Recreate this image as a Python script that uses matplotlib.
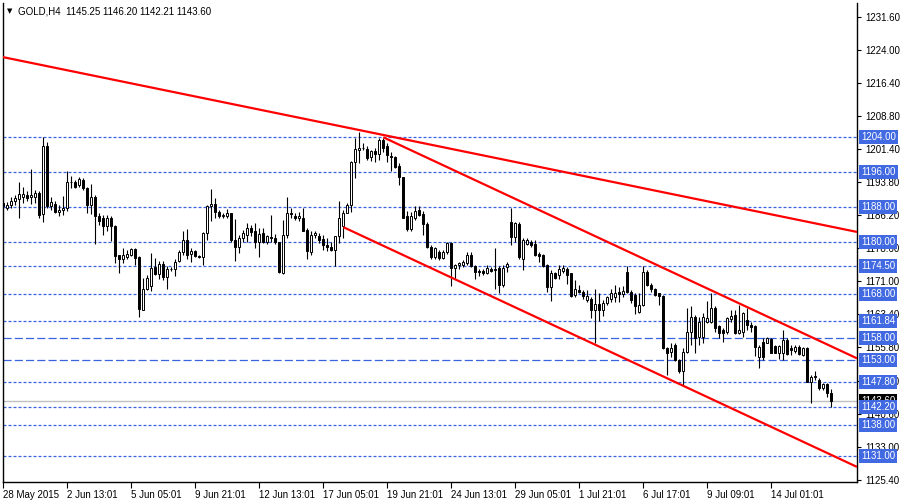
import matplotlib.pyplot as plt
import numpy as np

# GOLD H4 candles (open, high, low, close)
opens = [
    1188.9, 1187.8, 1188.5, 1189.3, 1189.9, 1190.3, 1190.7, 1190.2, 1190.4, 1191.2,
    1186.4, 1202.0, 1188.2, 1188.8, 1186.8, 1187.3, 1187.8, 1193.7, 1193.7, 1193.1,
    1194.3, 1192.3, 1188.4, 1190.4, 1186.0, 1185.6, 1183.6, 1185.6, 1183.6, 1176.9,
    1176.0, 1176.6, 1177.1, 1178.4, 1176.5, 1164.5, 1169.2, 1169.9, 1174.2, 1172.7,
    1175.0, 1171.9, 1173.8, 1173.9, 1175.6, 1177.7, 1180.5, 1177.3, 1178.0, 1176.7,
    1176.6, 1182.1, 1188.2, 1188.8, 1186.9, 1185.9, 1185.9, 1186.6, 1180.5, 1178.8,
    1180.9, 1181.7, 1183.3, 1182.6, 1180.0, 1182.1, 1180.1, 1181.1, 1180.9, 1180.0,
    1172.9, 1181.7, 1186.6, 1186.0, 1185.4, 1185.5, 1182.8, 1177.7, 1181.5, 1181.4,
    1180.7, 1179.2, 1178.9, 1178.2, 1181.3, 1183.6, 1186.6, 1188.4, 1198.3, 1201.0,
    1201.6, 1201.3, 1199.4, 1200.9, 1200.1, 1203.4, 1202.0, 1199.8, 1199.4, 1197.4,
    1194.8, 1185.9, 1183.0, 1185.5, 1187.4, 1186.4, 1184.2, 1178.9, 1176.6, 1177.7,
    1176.4, 1177.7, 1179.8, 1174.1, 1174.7, 1174.7, 1175.2, 1177.0, 1174.4, 1173.4,
    1173.3, 1172.8, 1173.9, 1173.9, 1174.1, 1170.1, 1174.3, 1184.6, 1181.1, 1184.2,
    1176.2, 1179.6, 1180.0, 1179.6, 1177.3, 1176.9, 1174.7, 1169.7, 1172.8, 1172.4,
    1173.4, 1173.9, 1172.8, 1167.8, 1169.0, 1168.6, 1166.8, 1167.0, 1164.5, 1165.7,
    1164.5, 1166.0, 1167.0, 1167.4, 1168.6, 1168.0, 1173.1, 1168.6, 1167.8, 1164.0,
    1165.6, 1173.2, 1170.1, 1169.1, 1168.2, 1167.5, 1155.6, 1154.8, 1156.4, 1152.9,
    1150.3, 1154.8, 1159.4, 1162.9, 1158.3, 1158.3, 1161.7, 1161.7, 1164.8, 1160.7,
    1159.8, 1159.4, 1162.3, 1163.3, 1159.2, 1159.4, 1162.1, 1161.0, 1160.7, 1153.7,
    1157.1, 1156.9, 1157.7, 1156.1, 1154.5, 1154.5, 1157.5, 1155.6, 1155.1, 1155.8,
    1154.1, 1155.6, 1147.9, 1149.3, 1148.4, 1146.4, 1147.4, 1145.25,
]
highs = [
    1189.3, 1189.1, 1190.4, 1190.7, 1193.7, 1192.7, 1191.6, 1196.8, 1192.0, 1191.7,
    1204.0, 1203.0, 1190.4, 1189.3, 1188.5, 1190.6, 1196.2, 1195.2, 1194.3, 1195.0,
    1194.6, 1192.7, 1193.3, 1190.8, 1186.6, 1186.1, 1186.1, 1185.9, 1184.0, 1176.9,
    1178.6, 1178.2, 1178.6, 1178.6, 1176.7, 1171.8, 1172.4, 1177.5, 1176.3, 1175.7,
    1175.6, 1174.4, 1174.2, 1176.0, 1178.2, 1182.4, 1183.0, 1178.6, 1178.2, 1176.9,
    1182.3, 1188.5, 1192.2, 1190.1, 1187.4, 1186.6, 1187.6, 1186.6, 1185.3, 1181.7,
    1182.8, 1184.3, 1184.0, 1184.3, 1183.3, 1183.3, 1181.7, 1186.2, 1181.8, 1180.1,
    1185.1, 1190.4, 1187.9, 1186.6, 1186.9, 1187.9, 1183.2, 1182.4, 1182.6, 1182.1,
    1181.7, 1180.9, 1180.1, 1181.3, 1189.3, 1187.4, 1188.9, 1198.6, 1203.8, 1205.3,
    1202.6, 1201.9, 1201.1, 1201.5, 1203.9, 1203.8, 1202.6, 1200.7, 1199.8, 1198.1,
    1195.0, 1187.2, 1186.9, 1188.2, 1188.2, 1187.0, 1184.6, 1179.2, 1178.9, 1178.1,
    1178.2, 1180.0, 1180.0, 1175.0, 1175.4, 1175.8, 1177.7, 1177.7, 1174.7, 1173.7,
    1173.7, 1174.7, 1174.3, 1178.5, 1174.4, 1174.7, 1175.4, 1187.8, 1184.6, 1184.6,
    1180.8, 1180.8, 1180.4, 1180.4, 1177.7, 1177.3, 1174.9, 1173.5, 1173.1, 1174.7,
    1174.7, 1174.3, 1172.9, 1171.2, 1170.1, 1169.0, 1169.0, 1167.3, 1169.3, 1168.2,
    1166.8, 1167.6, 1169.1, 1170.1, 1169.7, 1169.9, 1174.4, 1169.0, 1168.4, 1168.2,
    1174.5, 1173.6, 1170.5, 1169.4, 1168.4, 1167.8, 1156.0, 1156.8, 1156.8, 1153.1,
    1155.6, 1164.8, 1165.2, 1163.3, 1162.9, 1163.6, 1166.5, 1168.2, 1165.2, 1160.9,
    1160.2, 1162.9, 1164.4, 1164.4, 1165.6, 1164.0, 1164.8, 1161.7, 1160.9, 1156.4,
    1157.9, 1158.1, 1157.9, 1156.4, 1156.4, 1159.8, 1157.9, 1156.4, 1156.4, 1156.4,
    1155.8, 1155.8, 1149.5, 1150.3, 1148.7, 1147.7, 1147.7, 1146.20,
]
lows = [
    1187.8, 1187.3, 1187.8, 1188.5, 1185.6, 1188.9, 1189.3, 1188.8, 1188.9, 1185.5,
    1184.5, 1187.9, 1187.4, 1186.6, 1186.0, 1186.2, 1187.0, 1192.3, 1192.3, 1192.7,
    1192.0, 1186.6, 1186.4, 1179.5, 1184.0, 1181.7, 1182.4, 1180.3, 1175.2, 1172.9,
    1175.2, 1176.0, 1176.7, 1174.8, 1162.8, 1164.4, 1168.9, 1168.7, 1172.5, 1171.6,
    1171.2, 1169.3, 1173.3, 1172.2, 1175.4, 1177.1, 1176.0, 1175.4, 1176.5, 1176.3,
    1174.8, 1180.5, 1184.7, 1185.6, 1185.5, 1185.5, 1185.5, 1180.1, 1175.6, 1177.5,
    1180.1, 1180.1, 1181.3, 1178.6, 1176.6, 1179.8, 1179.5, 1180.1, 1179.5, 1172.9,
    1172.7, 1180.9, 1185.6, 1185.1, 1184.7, 1182.4, 1176.0, 1177.1, 1180.9, 1179.8,
    1178.2, 1178.0, 1177.9, 1174.4, 1179.8, 1180.9, 1186.6, 1186.9, 1194.6, 1198.1,
    1201.1, 1198.8, 1198.6, 1198.3, 1198.8, 1200.7, 1198.4, 1196.2, 1196.9, 1193.0,
    1185.5, 1182.6, 1182.6, 1185.1, 1185.9, 1181.7, 1178.7, 1176.2, 1176.2, 1175.8,
    1176.2, 1177.3, 1169.9, 1171.6, 1173.9, 1174.3, 1174.7, 1174.3, 1171.4, 1172.2,
    1172.4, 1172.6, 1173.1, 1169.3, 1168.3, 1169.7, 1173.1, 1179.2, 1180.0, 1176.0,
    1173.5, 1179.2, 1178.9, 1176.7, 1175.4, 1174.3, 1168.6, 1166.5, 1171.6, 1171.6,
    1172.9, 1170.3, 1167.4, 1167.4, 1168.2, 1167.0, 1166.3, 1162.5, 1156.9, 1161.9,
    1163.0, 1165.5, 1166.3, 1166.3, 1166.3, 1167.3, 1168.2, 1165.9, 1163.5, 1163.6,
    1165.2, 1169.8, 1168.6, 1167.5, 1165.6, 1155.4, 1149.5, 1153.7, 1152.7, 1149.9,
    1147.0, 1154.5, 1156.4, 1154.6, 1156.4, 1156.8, 1161.3, 1161.3, 1159.4, 1157.9,
    1157.1, 1159.0, 1161.7, 1159.0, 1159.0, 1158.3, 1159.8, 1159.4, 1153.9, 1151.2,
    1152.9, 1156.8, 1154.5, 1154.5, 1153.1, 1152.9, 1154.1, 1154.1, 1154.6, 1154.1,
    1153.9, 1147.8, 1143.1, 1148.3, 1146.0, 1146.0, 1144.5, 1142.21,
]
closes = [
    1188.2, 1188.5, 1189.4, 1190.1, 1191.0, 1191.0, 1190.1, 1190.7, 1191.2, 1186.2,
    1202.0, 1188.2, 1189.1, 1186.8, 1187.4, 1187.9, 1193.7, 1193.8, 1192.5, 1194.4,
    1192.3, 1188.4, 1190.4, 1185.9, 1184.7, 1183.6, 1185.6, 1183.6, 1176.7, 1176.1,
    1176.9, 1177.3, 1178.4, 1176.3, 1164.7, 1169.3, 1171.8, 1174.1, 1172.7, 1175.0,
    1171.9, 1173.9, 1173.9, 1175.4, 1177.7, 1180.5, 1177.1, 1178.0, 1176.7, 1176.6,
    1182.0, 1188.2, 1188.8, 1186.9, 1185.9, 1186.2, 1186.6, 1180.5, 1178.8, 1180.9,
    1182.1, 1183.3, 1182.3, 1180.1, 1181.8, 1180.0, 1181.4, 1180.9, 1180.0, 1173.1,
    1181.7, 1186.6, 1186.3, 1185.6, 1185.9, 1182.6, 1177.9, 1181.7, 1182.1, 1180.5,
    1179.2, 1178.8, 1178.1, 1181.3, 1185.5, 1186.6, 1188.4, 1198.3, 1201.3, 1201.6,
    1201.6, 1199.2, 1200.9, 1200.1, 1203.4, 1201.6, 1200.0, 1199.4, 1197.3, 1194.8,
    1185.6, 1183.0, 1185.9, 1187.2, 1186.2, 1184.1, 1178.9, 1176.6, 1178.5, 1176.4,
    1177.7, 1179.8, 1174.1, 1174.7, 1175.2, 1175.4, 1177.0, 1174.4, 1173.0, 1173.0,
    1172.8, 1174.1, 1173.4, 1173.5, 1170.1, 1174.1, 1175.0, 1181.1, 1184.4, 1176.6,
    1180.4, 1180.4, 1179.2, 1176.9, 1176.7, 1174.4, 1169.7, 1172.8, 1171.8, 1173.9,
    1174.1, 1172.4, 1167.6, 1169.1, 1168.6, 1167.6, 1167.6, 1164.5, 1165.7, 1164.5,
    1166.0, 1167.3, 1168.3, 1168.3, 1168.0, 1168.8, 1168.6, 1166.7, 1165.2, 1165.6,
    1173.2, 1170.1, 1169.1, 1167.8, 1167.5, 1155.6, 1154.6, 1155.6, 1152.9, 1150.3,
    1154.8, 1159.4, 1162.9, 1157.9, 1161.7, 1162.9, 1162.5, 1164.8, 1160.2, 1159.2,
    1159.2, 1162.5, 1163.0, 1159.2, 1159.8, 1163.6, 1161.0, 1160.6, 1156.0, 1156.0,
    1153.7, 1157.9, 1154.6, 1154.6, 1156.1, 1157.5, 1154.3, 1155.2, 1155.8, 1154.3,
    1155.6, 1147.9, 1149.1, 1149.0, 1146.4, 1147.4, 1145.4, 1143.60,
]

date_labels = ['28 May 2015', '2 Jun 13:01', '5 Jun 05:01', '9 Jun 21:01',
               '12 Jun 13:01', '17 Jun 05:01', '19 Jun 21:01', '24 Jun 13:01',
               '29 Jun 05:01', '1 Jul 21:01', '6 Jul 17:01', '9 Jul 09:01',
               '14 Jul 01:01']
bars_per_label = 16

price_ticks = [1231.60, 1224.00, 1216.40, 1208.80, 1201.40, 1193.80, 1186.20,
               1178.60, 1171.00, 1163.40, 1155.80, 1148.20, 1140.60, 1133.00,
               1125.40]

# horizontal levels drawn on the chart
levels_short = [1204.00, 1196.00, 1188.00, 1180.00, 1174.50, 1168.00, 1161.84,
                1147.80, 1142.20, 1138.00, 1131.00]
levels_long = [1158.00, 1153.00]
bid_price = 1143.60

# trend lines: (bar, price) pairs at both ends
trend_bars = [(-0.1, 213.4), (95.0, 213.4), (85.0, 213.4)]
trend_prices = [(1222.4, 1182.3), (1204.0, 1153.3), (1183.4, 1128.4)]

plt.rcParams['font.family'] = ['Liberation Sans', 'DejaVu Sans']
blue = '#3a63e0'
box_blue = '#4169e1'
fs = 7

fig = plt.figure(figsize=(9, 5), dpi=100)
ax = fig.add_axes([3 / 900, 18 / 500, 854 / 900, 479 / 500])

o = np.array(opens)
h = np.array(highs)
l = np.array(lows)
c = np.array(closes)
x = np.arange(len(o))
up = c >= o

# levels
for lv in levels_short:
    ax.axhline(lv, color=blue, lw=0.9, dashes=(2.4, 1.6), zorder=1)
for lv in levels_long:
    ax.axhline(lv, color=blue, lw=0.9, dashes=(6.5, 2.5), zorder=1)
ax.axhline(bid_price, color='#c0c0c0', lw=1.0, zorder=1)

# candles
ax.vlines(x, l, h, color='black', lw=0.8, zorder=3)
ax.bar(x, np.abs(c - o), bottom=np.minimum(o, c), width=0.5,
       color=np.where(up, 'white', 'black'), edgecolor='black',
       linewidth=0.7, zorder=4)

# trend lines
for (x0, x1), (y0, y1) in zip(trend_bars, trend_prices):
    ax.plot([x0, x1], [y0, y1], color='red', lw=1.6, zorder=5,
            solid_capstyle='butt')

ax.set_xlim(-0.075, 213.4)
ax.set_ylim(1124.94, 1234.81)

# axes look
ax.spines['top'].set_visible(False)
for s in ['left', 'right', 'bottom']:
    ax.spines[s].set_linewidth(1.0)
    ax.spines[s].set_color('black')

ax.set_xticks(x[::bars_per_label][:len(date_labels)])
ax.set_xticklabels(date_labels, ha='left')
ax.tick_params(axis='x', length=4, width=0.8, pad=2, labelsize=fs,
               labelcolor='black')

ax.yaxis.tick_right()
ax.set_yticks(price_ticks)
ax.set_yticklabels([f'{v:.2f}' for v in price_ticks])
ax.tick_params(axis='y', length=3, width=0.8, pad=3, labelsize=fs)

# price labels on the right
ytr = ax.get_yaxis_transform()
ax.text(1.005, bid_price, f'{bid_price:.2f}', transform=ytr, ha='left',
        va='center', fontsize=fs, color='white', zorder=6, clip_on=False,
        bbox=dict(boxstyle='square,pad=0.2', fc='black', ec='none'))
for lv in levels_short + levels_long:
    ax.text(1.005, lv, f'{lv:.2f}', transform=ytr, ha='left', va='center',
            fontsize=fs, color='white', zorder=7, clip_on=False,
            bbox=dict(boxstyle='square,pad=0.2', fc=box_blue, ec='none'))

# header
fig.text(10 / 900, 1 - 11 / 500, '\u25bc', fontsize=5, family='DejaVu Sans',
         ha='center', va='center')
fig.text(18 / 900, 1 - 11 / 500,
         'GOLD,H4  1145.25 1146.20 1142.21 1143.60',
         fontsize=fs, ha='left', va='center')

fig.savefig('out.png', dpi=100)
